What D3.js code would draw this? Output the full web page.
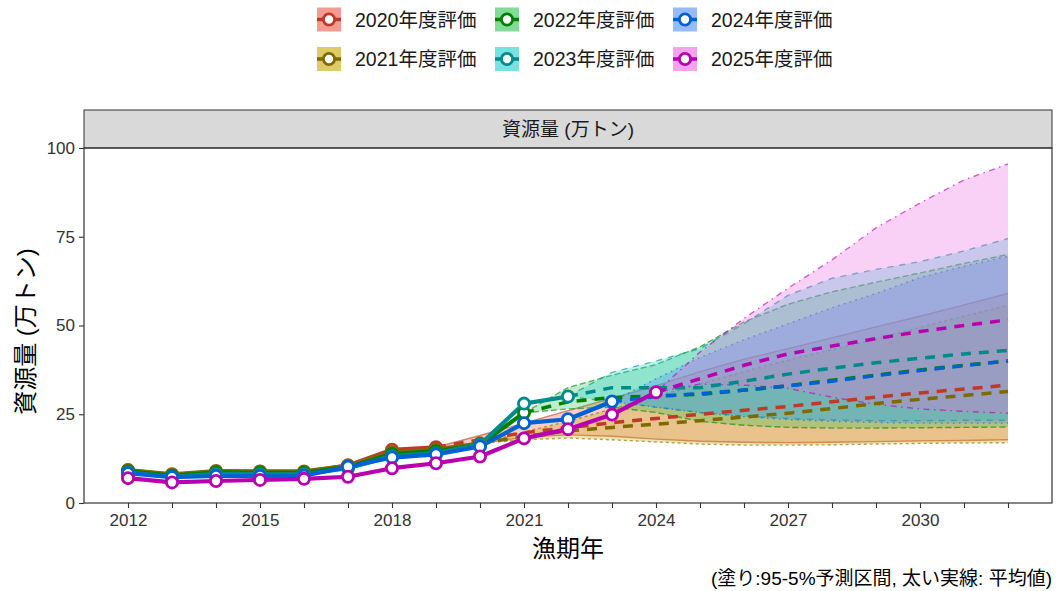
<!DOCTYPE html>
<html>
<head>
<meta charset="utf-8">
<script src="https://cdn.jsdelivr.net/npm/d3@7"></script>
<style>
  html, body { margin: 0; padding: 0; background: #fff; }
  svg { display: block; font-family: "Liberation Sans", "Noto Sans CJK JP", sans-serif; }
</style>
</head>
<body>
<svg id="chart" width="1056" height="591"></svg>
<script>
// Assessment vintages
const evalLabels = ["2020年度評価", "2021年度評価", "2022年度評価", "2023年度評価", "2024年度評価", "2025年度評価"];
const lineColors = ["#BE3A26", "#7E6A00", "#008000", "#008B8B", "#0062D2", "#B800B0"];
const fillColors = ["#F0584A", "#C8A800", "#2EC452", "#1BCFCF", "#4F8FFF", "#EE66E0"];
const bandDash   = [null, "3,3", "6,3", "6,6", "1.5,4.5", "1.5,4.5,6,4.5"];

// Estimated biomass (万トン), fishing years 2012 onward
const histStart = 2012;
const bio2020 = [9.2, 7.9, 8.8, 8.8, 8.7, 10.6, 15.0, 15.7];
const bio2021 = [9.3, 8.1, 9.0, 8.9, 8.9, 10.5, 14.3, 15.0, 16.8];
const bio2022 = [8.9, 7.7, 8.6, 8.5, 8.5, 10.1, 13.8, 14.6, 16.4, 25.4];
const bio2023 = [8.6, 7.4, 8.2, 8.1, 8.1, 9.8, 13.2, 14.0, 16.5, 28.0, 30.0];
const bio2024 = [8.4, 7.3, 7.6, 7.6, 7.7, 10.2, 12.8, 13.7, 15.9, 22.5, 23.6, 28.6];
const bio2025 = [7.0, 5.8, 6.2, 6.5, 6.8, 7.4, 9.8, 11.2, 13.1, 18.2, 20.8, 24.9, 31.2];

// Projections: each starts at the vintage's last estimated year and runs to 2032
const projEnd = 2032;
const mean2020  = [15.7, 17.8, 19.8, 21.2, 22.6, 23.8, 25.0, 26.1, 27.2, 28.5, 29.8, 31.0, 32.1, 33.2];
const upper2020 = [15.7, 19.0, 22.5, 26.0, 29.5, 33.0, 37.0, 40.5, 43.5, 46.5, 49.6, 52.6, 55.8, 59.0];
const lower2020 = [15.7, 16.8, 18.5, 19.2, 18.8, 18.0, 17.4, 17.1, 17.0, 17.1, 17.3, 17.5, 17.6, 17.8];

const mean2021  = [16.8, 18.8, 20.3, 21.3, 22.2, 23.2, 24.2, 25.3, 26.6, 28.0, 29.2, 30.3, 31.4];
const upper2021 = [16.8, 20.0, 23.0, 26.5, 30.0, 33.5, 37.0, 40.2, 43.2, 46.2, 49.5, 52.6, 55.7];
const lower2021 = [16.8, 17.8, 18.3, 17.8, 17.2, 16.6, 16.3, 16.3, 16.4, 16.6, 16.8, 16.9, 17.0];

const mean2022  = [25.4, 28.5, 29.7, 30.2, 30.6, 31.8, 33.0, 34.6, 36.0, 37.5, 38.8, 40.0];
const upper2022 = [25.4, 32.5, 36.0, 39.0, 44.0, 51.0, 56.0, 59.5, 62.2, 64.8, 67.5, 70.0];
const lower2022 = [25.4, 26.5, 27.0, 25.5, 23.0, 21.9, 21.3, 21.1, 21.1, 21.2, 21.3, 21.4];

const mean2023  = [30.0, 32.5, 32.5, 32.5, 34.3, 36.3, 38.0, 39.5, 40.8, 42.0, 43.0];
const upper2023 = [30.0, 36.8, 40.0, 43.5, 50.5, 58.5, 63.3, 65.8, 68.0, 71.0, 74.5];
const lower2023 = [30.0, 28.5, 27.0, 25.5, 24.5, 23.8, 23.4, 23.2, 23.2, 23.3, 23.3];

const mean2024  = [28.6, 30.0, 30.8, 31.8, 33.0, 34.3, 35.9, 37.3, 38.7, 40.0];
const upper2024 = [28.6, 35.0, 41.0, 46.0, 50.5, 55.0, 59.0, 63.5, 66.7, 69.5];
const lower2024 = [28.6, 27.0, 25.5, 24.3, 23.5, 23.0, 22.7, 22.5, 22.5, 22.5];

const mean2025  = [31.2, 35.0, 38.8, 42.0, 44.2, 46.3, 48.3, 50.0, 51.6];
const upper2025 = [31.2, 42.5, 52.0, 60.5, 68.5, 77.5, 84.5, 91.0, 95.5];
const lower2025 = [31.2, 33.5, 33.2, 32.3, 29.8, 27.8, 26.5, 25.8, 25.3];

const xTickLabels = [2012, 2015, 2018, 2021, 2024, 2027, 2030];
const yTicks = [0, 25, 50, 75, 100];

const histSets  = [bio2020, bio2021, bio2022, bio2023, bio2024, bio2025];
const meanSets  = [mean2020, mean2021, mean2022, mean2023, mean2024, mean2025];
const upperSets = [upper2020, upper2021, upper2022, upper2023, upper2024, upper2025];
const lowerSets = [lower2020, lower2021, lower2022, lower2023, lower2024, lower2025];

// Assemble per-vintage records
const series = evalLabels.map((label, i) => {
  const hist = histSets[i].map((v, k) => ({ year: histStart + k, value: v }));
  const projStart = projEnd - meanSets[i].length + 1;
  const proj = meanSets[i].map((m, k) => ({
    year: projStart + k, mean: m, upper: upperSets[i][k], lower: lowerSets[i][k]
  }));
  return { label, hist, proj, line: lineColors[i], fill: fillColors[i], dash: bandDash[i] };
});

const svg = d3.select("#chart");
const panel = { left: 84, right: 1052, top: 148, bottom: 503 };

const x = d3.scaleLinear().domain([2011, 2033]).range([panel.left, panel.right]);
const y = d3.scaleLinear().domain([0, 100]).range([panel.bottom, panel.top]);

// Strip header
svg.append("rect")
  .attr("x", panel.left).attr("y", 110)
  .attr("width", panel.right - panel.left).attr("height", panel.top - 110)
  .attr("fill", "#D9D9D9").attr("stroke", "#333").attr("stroke-width", 1);
svg.append("text")
  .attr("x", (panel.left + panel.right) / 2).attr("y", 129)
  .attr("text-anchor", "middle").attr("dominant-baseline", "central")
  .attr("font-size", 19).attr("fill", "#1A1A1A")
  .text("資源量 (万トン)");

// Plot region
const plot = svg.append("g");
const clipId = "panel-clip";
svg.append("defs").append("clipPath").attr("id", clipId)
  .append("rect").attr("x", panel.left).attr("y", panel.top)
  .attr("width", panel.right - panel.left).attr("height", panel.bottom - panel.top);
plot.attr("clip-path", `url(#${clipId})`);

// Prediction intervals: fill and edges per vintage, so later fills tint earlier edges
const area = d3.area().x(d => x(d.year)).y0(d => y(d.lower)).y1(d => y(d.upper));
const edge = key => d3.line().x(d => x(d.year)).y(d => y(d[key]));
series.forEach(s => {
  plot.append("path").datum(s.proj)
    .attr("d", area).attr("fill", s.fill).attr("fill-opacity", 0.3).attr("stroke", "none");
  ["upper", "lower"].forEach(k => {
    plot.append("path").datum(s.proj)
      .attr("d", edge(k)).attr("fill", "none")
      .attr("stroke", s.line).attr("stroke-opacity", 0.6).attr("stroke-width", 1.4)
      .attr("stroke-dasharray", s.dash);
  });
});

// Projected means
const meanLine = d3.line().x(d => x(d.year)).y(d => y(d.mean));
series.forEach(s => {
  plot.append("path").datum(s.proj)
    .attr("d", meanLine).attr("fill", "none")
    .attr("stroke", s.line).attr("stroke-width", 3.5)
    .attr("stroke-dasharray", "10,8");
});

// Estimated biomass
const histLine = d3.line().x(d => x(d.year)).y(d => y(d.value));
series.forEach(s => {
  plot.append("path").datum(s.hist)
    .attr("d", histLine).attr("fill", "none")
    .attr("stroke", s.line).attr("stroke-width", 4.2).attr("stroke-linejoin", "round");
});
series.forEach(s => {
  plot.selectAll(null).data(s.hist).enter().append("circle")
    .attr("cx", d => x(d.year)).attr("cy", d => y(d.value)).attr("r", 5.6)
    .attr("fill", "#fff").attr("stroke", s.line).attr("stroke-width", 2.8);
});

// Panel border
svg.append("rect")
  .attr("x", panel.left).attr("y", panel.top)
  .attr("width", panel.right - panel.left).attr("height", panel.bottom - panel.top)
  .attr("fill", "none").attr("stroke", "#333").attr("stroke-width", 1.2);

// Axes
const xAxis = d3.axisBottom(x)
  .tickValues(d3.range(2012, 2033))
  .tickSize(5).tickPadding(6)
  .tickFormat(d => xTickLabels.includes(d) ? String(d) : "");
const gx = svg.append("g").attr("transform", `translate(0,${panel.bottom})`).call(xAxis);
const yAxis = d3.axisLeft(y).tickValues(yTicks).tickSize(5).tickPadding(4);
const gy = svg.append("g").attr("transform", `translate(${panel.left},0)`).call(yAxis);
[gx, gy].forEach(g => {
  g.select(".domain").remove();
  g.selectAll(".tick line").attr("stroke", "#333").attr("stroke-width", 1.1);
  g.selectAll(".tick text").attr("fill", "#333").attr("font-size", 17)
    .attr("font-family", "Liberation Sans, sans-serif");
});

// Axis titles and caption
svg.append("text")
  .attr("x", (panel.left + panel.right) / 2).attr("y", 557)
  .attr("text-anchor", "middle").attr("font-size", 24).attr("fill", "#000")
  .text("漁期年");
svg.append("text")
  .attr("transform", `translate(34,${(panel.top + panel.bottom) / 2 + 6}) rotate(-90)`)
  .attr("text-anchor", "middle").attr("font-size", 24).attr("fill", "#000")
  .text("資源量 (万トン)");
svg.append("text")
  .attr("x", 1052).attr("y", 585)
  .attr("text-anchor", "end").attr("font-size", 19).attr("fill", "#000")
  .text("(塗り:95-5%予測区間, 太い実線: 平均値)");

// Legend: 3 columns x 2 rows, filled column-wise
const legendCols = [317, 495, 673];
const legendRows = [19.5, 59];
series.forEach((s, i) => {
  const cx = legendCols[Math.floor(i / 2)];
  const cy = legendRows[i % 2];
  const g = svg.append("g").attr("transform", `translate(${cx},${cy})`);
  g.append("rect").attr("x", 0).attr("y", -12).attr("width", 24).attr("height", 24)
    .attr("fill", s.fill).attr("fill-opacity", 0.6);
  g.append("line").attr("x1", 0).attr("x2", 24).attr("y1", 0).attr("y2", 0)
    .attr("stroke", s.line).attr("stroke-width", 3.5);
  g.append("circle").attr("cx", 12).attr("cy", 0).attr("r", 5.6)
    .attr("fill", "#fff").attr("stroke", s.line).attr("stroke-width", 2.8);
  g.append("text").attr("x", 38).attr("y", 0).attr("dominant-baseline", "central")
    .attr("font-size", 19.5).attr("fill", "#1A1A1A").text(s.label);
});
</script>
</body>
</html>
